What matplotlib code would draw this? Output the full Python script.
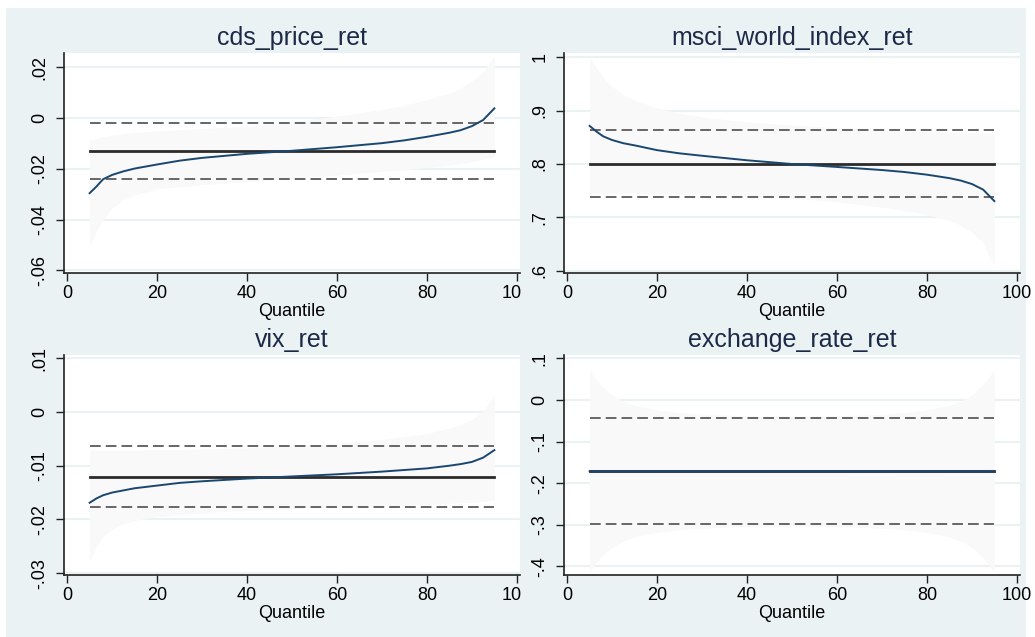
import matplotlib.pyplot as plt
from matplotlib.patches import Rectangle

plt.rcParams['font.family'] = ['Liberation Sans', 'DejaVu Sans']

quantiles = [5, 6.5, 8, 10, 12.5, 15, 20, 25, 30, 40, 50, 60, 70, 75, 80, 85, 87.5, 90, 92.5, 95]

# cds_price_ret
cds_coef = [-0.0296, -0.0270, -0.0241, -0.0224, -0.0210, -0.0199, -0.0183, -0.0168, -0.0157, -0.0141,
            -0.0129, -0.0115, -0.0099, -0.0088, -0.0074, -0.0058, -0.0048, -0.0032, -0.0008, 0.0038]
cds_hi = [-0.0087, -0.0080, -0.0074, -0.0068, -0.0062, -0.0057, -0.0051, -0.0046, -0.0042, -0.0032,
          -0.0015, 0.0007, 0.0033, 0.0050, 0.0072, 0.0098, 0.0118, 0.0145, 0.0180, 0.0243]
cds_lo = [-0.0507, -0.0445, -0.0400, -0.0355, -0.0322, -0.0303, -0.0280, -0.0270, -0.0262, -0.0250,
          -0.0238, -0.0225, -0.0210, -0.0203, -0.0195, -0.0185, -0.0179, -0.0172, -0.0163, -0.0152]
cds_ols = [-0.0239, -0.0130, -0.0021]
cds_ticks = [-0.06, -0.04, -0.02, 0, 0.02]
cds_labels = ['-.06', '-.04', '-.02', '0', '.02']

# msci_world_index_ret
msci_coef = [0.8715, 0.861, 0.852, 0.845, 0.839, 0.835, 0.826, 0.820, 0.8155, 0.807,
             0.800, 0.7945, 0.7887, 0.785, 0.780, 0.7735, 0.769, 0.7625, 0.752, 0.7304]
msci_hi = [1.000, 0.980, 0.962, 0.945, 0.930, 0.920, 0.905, 0.895, 0.888, 0.879,
           0.873, 0.868, 0.864, 0.862, 0.861, 0.860, 0.859, 0.859, 0.858, 0.858]
msci_lo = [0.745, 0.745, 0.745, 0.745, 0.745, 0.745, 0.744, 0.744, 0.743, 0.740,
           0.736, 0.729, 0.719, 0.713, 0.705, 0.694, 0.685, 0.672, 0.652, 0.607]
msci_ols = [0.7373, 0.800, 0.8633]
msci_ticks = [0.6, 0.7, 0.8, 0.9, 1.0]
msci_labels = ['.6', '.7', '.8', '.9', '1']

# vix_ret
vix_coef = [-0.0169, -0.0161, -0.0155, -0.0150, -0.0146, -0.0142, -0.0137, -0.0132, -0.0129, -0.0124,
            -0.0120, -0.0116, -0.0111, -0.0108, -0.0105, -0.0100, -0.0097, -0.0093, -0.0085, -0.0071]
vix_hi = [-0.0071, -0.0071, -0.0071, -0.0071, -0.0071, -0.0071, -0.0070, -0.0070, -0.0069, -0.0067,
          -0.0063, -0.0058, -0.0051, -0.0046, -0.0040, -0.0030, -0.0023, -0.0014, 0.0002, 0.0032]
vix_lo = [-0.0276, -0.0250, -0.0232, -0.0218, -0.0208, -0.0202, -0.0195, -0.0191, -0.0188, -0.0183,
          -0.0180, -0.0177, -0.0175, -0.0174, -0.0172, -0.0170, -0.0169, -0.0168, -0.0166, -0.0164]
vix_ols = [-0.01761, -0.01203, -0.00639]
vix_ticks = [-0.03, -0.02, -0.01, 0, 0.01]
vix_labels = ['-.03', '-.02', '-.01', '0', '.01']

# exchange_rate_ret
fx_coef = [-0.1712, -0.1712, -0.1712, -0.1712, -0.1712, -0.1712, -0.1712, -0.1713, -0.1713, -0.1713,
           -0.1714, -0.1714, -0.1715, -0.1716, -0.1716, -0.1717, -0.1718, -0.1719, -0.1720, -0.1722]
fx_hi = [0.072, 0.048, 0.030, 0.012, -0.003, -0.013, -0.024, -0.030, -0.034, -0.038,
         -0.039, -0.038, -0.034, -0.030, -0.024, -0.013, -0.003, 0.012, 0.038, 0.072]
fx_lo = [-0.414, -0.390, -0.372, -0.354, -0.339, -0.329, -0.318, -0.312, -0.308, -0.304,
         -0.303, -0.304, -0.308, -0.312, -0.318, -0.329, -0.339, -0.354, -0.380, -0.414]
fx_ols = [-0.2976, -0.1712, -0.0432]
fx_ticks = [-0.4, -0.3, -0.2, -0.1, 0, 0.1]
fx_labels = ['-.4', '-.3', '-.2', '-.1', '0', '.1']

x_ticks = [0, 20, 40, 60, 80, 100]

W, H = 1035, 637
BG = '#eaf2f3'
NAVY = '#1a476f'

fig = plt.figure(figsize=(W / 100, H / 100), dpi=100, facecolor='white')

# graph region backgrounds (right half drawn over the left panels, like Stata)
fig.patches.append(Rectangle((6 / W, 0), (1026 - 6) / W, 1 - 8 / H,
                             transform=fig.transFigure, facecolor=BG,
                             edgecolor='none', zorder=-1))
fig.patches.append(Rectangle((520.5 / W, 0), (1026 - 520.5) / W, 1 - 8 / H,
                             transform=fig.transFigure, facecolor=BG,
                             edgecolor='none', zorder=0.5))

panels = [
    ('cds_price_ret', cds_coef, cds_lo, cds_hi, cds_ols, cds_ticks, cds_labels,
     (-0.06102, 0.02559), 64, 53),
    ('msci_world_index_ret', msci_coef, msci_lo, msci_hi, msci_ols, msci_ticks, msci_labels,
     (0.5955, 1.0083), 564, 53),
    ('vix_ret', vix_coef, vix_lo, vix_hi, vix_ols, vix_ticks, vix_labels,
     (-0.03035, 0.01061), 64, 355),
    ('exchange_rate_ret', fx_coef, fx_lo, fx_hi, fx_ols, fx_ticks, fx_labels,
     (-0.4207, 0.1082), 564, 355),
]

for title, coef, lo, hi, ols, yt, yl, ylim, px, py in panels:
    ax = fig.add_axes([px / W, 1 - (py + 220) / H, 456 / W, 220 / H])
    ax.set_zorder(1 if px > 500 else 0)
    ax.set_facecolor('white')
    ax.fill_between(quantiles, lo, hi, color='#f9f9f9', lw=0, zorder=1)
    ax.plot([quantiles[0], quantiles[-1]], [ols[1], ols[1]], color='#2b2b2b', lw=2, zorder=3)
    for v in (ols[0], ols[2]):
        ax.plot([quantiles[0], quantiles[-1]], [v, v], color='#666666', lw=1.4,
                dashes=(5.5, 2.6), zorder=3)
    ax.plot(quantiles, coef, color=NAVY, lw=1.4, zorder=4)

    ax.set_xlim(-0.7, 100.7)
    ax.set_ylim(*ylim)
    ax.set_yticks(yt)
    ax.set_yticklabels(yl, rotation=90, va='center')
    ax.set_xticks(x_ticks)
    ax.set_xticklabels([str(t) for t in x_ticks])
    for v in yt:
        ax.axhline(v, color=BG, lw=1.5, zorder=0.5)

    for s in ('top', 'right'):
        ax.spines[s].set_visible(False)
    for s in ('left', 'bottom'):
        ax.spines[s].set_color('#222222')
        ax.spines[s].set_linewidth(1.2)
    ax.tick_params(axis='both', direction='out', length=6, width=1, color='#222222',
                   labelsize=13, labelcolor='black')
    ax.tick_params(axis='y', pad=5)
    ax.tick_params(axis='x', pad=3)
    ax.set_xlabel('Quantile', fontsize=13, labelpad=0)
    ax.set_title(title, fontsize=18, color='#1c2a48', pad=5.5)

fig.savefig('out.png', dpi=100, facecolor='white')
